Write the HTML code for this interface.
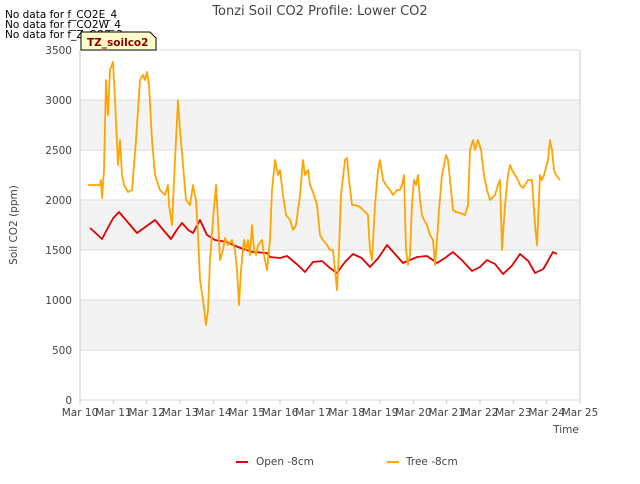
<!DOCTYPE html>
<html><head><meta charset="utf-8"><style>
body{margin:0;background:#fff;font-family:"DejaVu Sans",sans-serif}
svg text{font-family:"DejaVu Sans","Liberation Sans",sans-serif}
</style></head><body>
<svg id="chart" width="640" height="480" xmlns="http://www.w3.org/2000/svg">
<rect x="0" y="0" width="640" height="480" fill="#fff"/>
<g id="bands"></g><g id="grid"></g><g id="axes"></g><g id="series"></g>
<text x="320" y="15" text-anchor="middle" font-size="13" fill="#444">Tonzi Soil CO2 Profile: Lower CO2</text>
<text x="5" y="18" font-size="10.5" fill="#000">No data for f_CO2E_4</text>
<text x="5" y="28" font-size="10.5" fill="#000">No data for f_CO2W_4</text>
<text x="5" y="38" font-size="10.5" fill="#000">No data for f_Z_CO2_3</text>
<g>
<polygon points="81,32 150,32 156,38 156,50 81,50" fill="#ffffcc" stroke="#000" stroke-width="1"/>
<text x="87" y="46" font-size="10.5" fill="#8b0000" font-weight="bold">TZ_soilco2</text></g>
<text transform="translate(17,225) rotate(-90)" text-anchor="middle" font-size="10.5" fill="#444">Soil CO2 (ppm)</text>
<text x="566" y="433" text-anchor="middle" font-size="10.5" fill="#444">Time</text>
<g>
<line x1="236" y1="462" x2="248" y2="462" stroke="#e00000" stroke-width="2"/>
<text x="256" y="465" font-size="10.5" fill="#444">Open -8cm</text>
<line x1="387" y1="462" x2="399" y2="462" stroke="#ffa500" stroke-width="2"/>
<text x="406" y="465" font-size="10.5" fill="#444">Tree -8cm</text></g>
</svg>
<script>
const xTickLabels=["Mar 10","Mar 11","Mar 12","Mar 13","Mar 14","Mar 15","Mar 16","Mar 17","Mar 18","Mar 19","Mar 20","Mar 21","Mar 22","Mar 23","Mar 24","Mar 25"];
const yTicks=[0,500,1000,1500,2000,2500,3000,3500];
const openDays=[0.3,0.5,0.66,0.8,1.0,1.17,1.4,1.71,2.0,2.25,2.5,2.73,2.9,3.06,3.25,3.39,3.6,3.81,4.05,4.41,4.59,4.89,5.19,5.61,5.7,6.0,6.21,6.5,6.75,6.99,7.26,7.5,7.71,7.95,8.19,8.45,8.7,8.95,9.21,9.45,9.69,10.11,10.41,10.71,10.95,11.19,11.45,11.76,12.0,12.21,12.45,12.69,12.95,13.2,13.45,13.65,13.9,14.19,14.31];
const openVals=[1720,1660,1610,1700,1820,1880,1790,1670,1740,1800,1700,1610,1700,1770,1700,1670,1800,1650,1600,1580,1550,1510,1480,1470,1430,1420,1440,1360,1280,1380,1390,1320,1270,1380,1460,1420,1330,1420,1550,1460,1370,1430,1440,1370,1420,1480,1400,1290,1330,1400,1360,1260,1340,1460,1390,1270,1310,1480,1460];
const treeDays=[0.24,0.6,0.63,0.66,0.72,0.78,0.84,0.9,0.99,1.05,1.14,1.2,1.26,1.32,1.44,1.56,1.68,1.8,1.89,1.95,2.01,2.07,2.16,2.25,2.4,2.55,2.64,2.67,2.76,2.85,2.94,3.0,3.09,3.18,3.3,3.39,3.48,3.54,3.6,3.69,3.78,3.84,3.9,3.99,4.08,4.14,4.2,4.29,4.35,4.44,4.56,4.65,4.71,4.77,4.83,4.92,4.98,5.04,5.1,5.16,5.22,5.28,5.34,5.46,5.52,5.61,5.7,5.76,5.85,5.94,6.0,6.09,6.18,6.3,6.39,6.48,6.6,6.69,6.75,6.84,6.9,7.02,7.11,7.2,7.29,7.41,7.5,7.59,7.65,7.71,7.77,7.83,7.95,8.01,8.07,8.16,8.25,8.4,8.55,8.64,8.67,8.7,8.76,8.85,8.94,9.0,9.09,9.18,9.3,9.39,9.51,9.6,9.66,9.72,9.78,9.84,9.9,9.96,10.02,10.08,10.14,10.2,10.26,10.32,10.41,10.5,10.59,10.65,10.71,10.77,10.86,10.92,10.98,11.04,11.1,11.19,11.28,11.4,11.55,11.64,11.7,11.79,11.85,11.94,12.03,12.12,12.21,12.3,12.45,12.54,12.6,12.66,12.75,12.84,12.9,12.96,13.05,13.14,13.2,13.29,13.35,13.44,13.56,13.65,13.71,13.8,13.86,13.92,14.04,14.1,14.16,14.22,14.28,14.4];
const treeVals=[2150,2150,2200,2020,2300,3200,2850,3300,3380,3000,2350,2600,2250,2150,2080,2100,2600,3200,3250,3200,3280,3150,2600,2250,2100,2050,2150,1950,1750,2400,3000,2700,2350,2000,1950,2150,2000,1650,1200,1000,750,900,1400,1800,2150,1800,1400,1500,1620,1550,1600,1500,1300,950,1300,1600,1500,1600,1450,1750,1500,1450,1550,1600,1450,1300,1600,2100,2400,2250,2300,2050,1850,1800,1700,1750,2050,2400,2250,2300,2150,2050,1950,1650,1600,1550,1500,1500,1300,1100,1500,2050,2400,2420,2200,1950,1950,1930,1880,1850,1650,1500,1400,1950,2300,2400,2200,2150,2100,2050,2100,2100,2150,2250,1500,1350,1450,1950,2200,2150,2250,2000,1850,1800,1750,1650,1600,1350,1600,1900,2250,2350,2450,2400,2200,1900,1880,1870,1850,1950,2500,2600,2500,2600,2500,2250,2100,2000,2050,2150,2200,1500,1950,2250,2350,2300,2250,2200,2150,2120,2150,2200,2200,1750,1550,2250,2200,2250,2400,2600,2500,2300,2250,2200];
const X0=80,X1=580,Y0=400,Y1=50;
const xs=d=>X0+d*(X1-X0)/15;
const ys=v=>Y0-v*(Y0-Y1)/3500;
const NS="http://www.w3.org/2000/svg";
function mk(tag,attrs,parent){const e=document.createElementNS(NS,tag);for(const k in attrs)e.setAttribute(k,attrs[k]);parent.appendChild(e);return e;}
const bands=document.getElementById('bands'),grid=document.getElementById('grid'),axes=document.getElementById('axes'),series=document.getElementById('series');
for(let i=0;i<yTicks.length-1;i++){
  if(i%2===1){const r=mk('rect',{x:X0,y:ys(yTicks[i+1]),width:X1-X0,height:ys(yTicks[i])-ys(yTicks[i+1]),fill:'#f3f3f3'},bands);
  
  }
}
yTicks.forEach(v=>{
  const l=mk('line',{x1:X0,x2:X1,y1:ys(v),y2:ys(v),stroke:'#dcdcdc','stroke-width':1},grid);
  
  
  const t=mk('text',{x:X0-8,y:ys(v)+4,'text-anchor':'end','font-size':10.5,fill:'#444'},axes);
  t.textContent=v;
  
  
});
const la=mk('line',{x1:X0,x2:X0,y1:Y1,y2:Y0,stroke:'#ccc'},axes);


const lr=mk('line',{x1:X1,x2:X1,y1:Y1,y2:Y0,stroke:'#ccc'},axes);


xTickLabels.forEach((s,i)=>{
  const tk=mk('line',{x1:xs(i),x2:xs(i),y1:Y0,y2:Y0+4,stroke:'#ccc'},axes);
  
  
  const t=mk('text',{x:xs(i),y:Y0+16,'text-anchor':'middle','font-size':10.5,fill:'#444'},axes);
  t.textContent=s;
  
  
});
function line(days,vals,color,name){
  const p=days.map((d,i)=>xs(d).toFixed(1)+','+ys(vals[i]).toFixed(1)).join(' ');
  const pl=mk('polyline',{points:p,fill:'none',stroke:color,'stroke-width':1.8,'stroke-linejoin':'round'},series);
  
  
}
line(openDays,openVals,'#e00000','open-8cm-line');
line(treeDays,treeVals,'#ffa500','tree-8cm-line');
</script>
</body></html>
